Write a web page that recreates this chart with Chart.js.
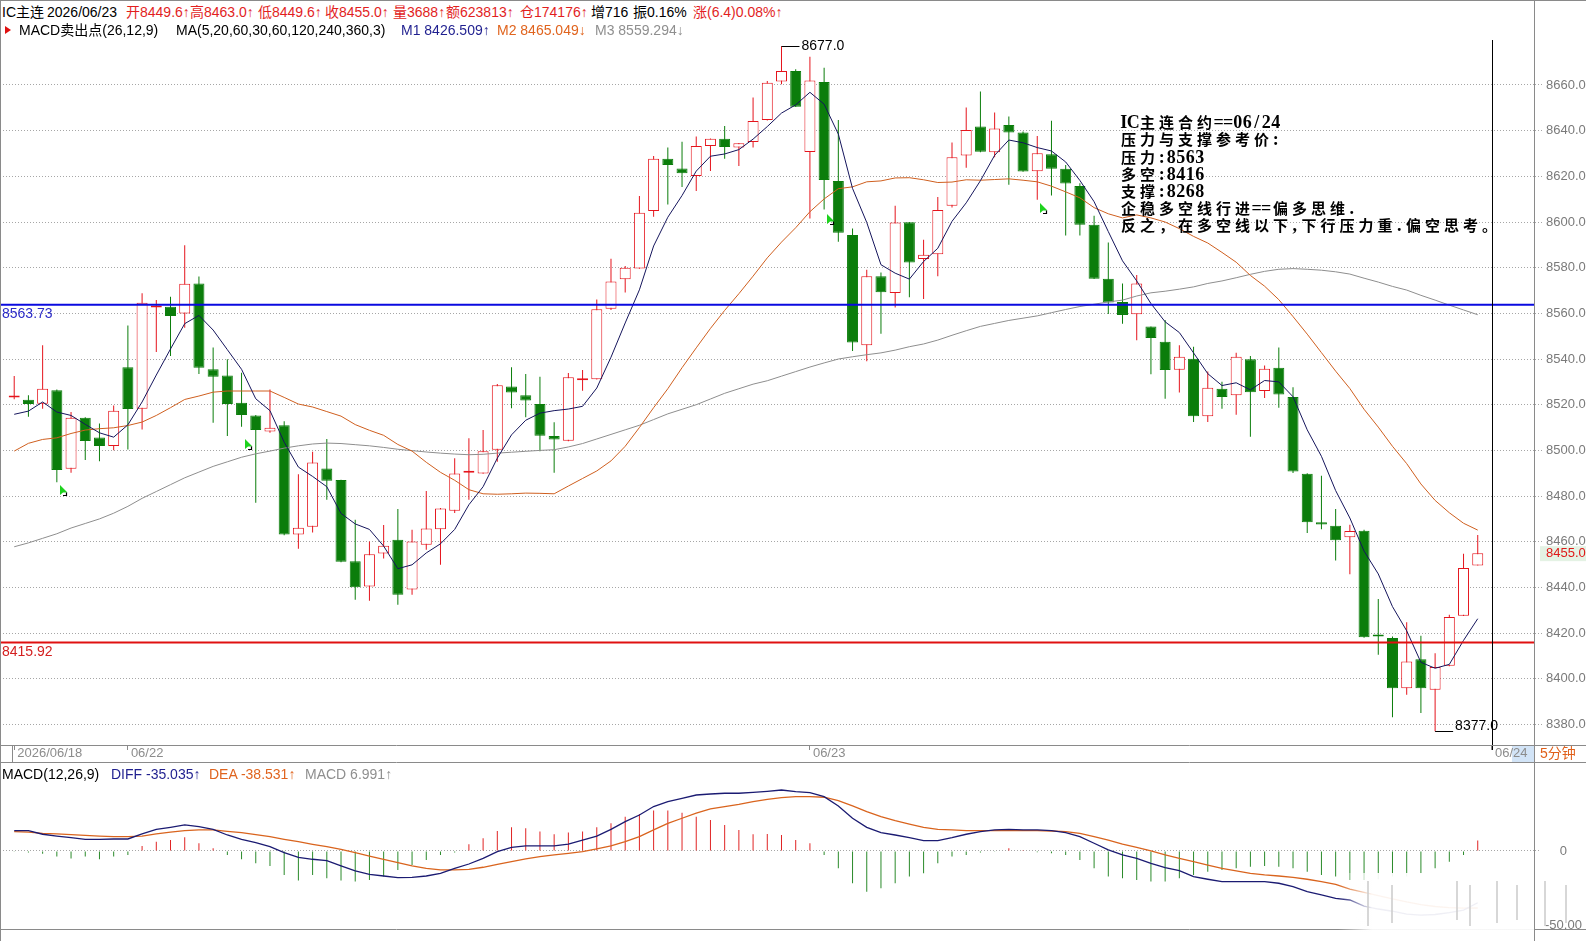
<!DOCTYPE html>
<html>
<head>
<meta charset="utf-8">
<title>IC主连 5分钟</title>
<script src="https://cdn.jsdelivr.net/npm/chart.js@4.4.1/dist/chart.umd.min.js"></script>
<style>
  html, body { margin: 0; padding: 0; background: #fff; }
  #page { position: relative; width: 1586px; height: 941px; overflow: hidden; background: #fff; }
  canvas { position: absolute; left: 0; }
  #main { top: 28px; }
  #macd { top: 745px; }
  .t { position: absolute; white-space: nowrap; font: 14px "Liberation Sans", "Noto Sans CJK SC", sans-serif; line-height: 16px; color: #000; }
  .red { color: #E21E1E; }
  .rule { position: absolute; background: #8a8a8a; }
</style>
</head>
<body>
<div id="page">
  <canvas id="main" width="1586" height="735"></canvas>
  <canvas id="macd" width="1586" height="196"></canvas>

  <div class="rule" style="left:0;top:0;width:1586px;height:1px"></div>
  <div class="rule" style="left:0;top:0;width:1px;height:941px"></div>
  <div class="rule" style="left:1534px;top:0;width:1px;height:941px"></div>

  <span class="t" style="left:2px;top:4px">IC主连</span>
  <span class="t" style="left:47px;top:4px">2026/06/23</span>
  <span class="t red" style="left:126px;top:4px">开8449.6↑</span>
  <span class="t red" style="left:190px;top:4px">高8463.0↑</span>
  <span class="t red" style="left:258px;top:4px">低8449.6↑</span>
  <span class="t red" style="left:325px;top:4px">收8455.0↑</span>
  <span class="t red" style="left:393px;top:4px">量3688↑</span>
  <span class="t red" style="left:446px;top:4px">额623813↑</span>
  <span class="t red" style="left:520px;top:4px">仓174176↑</span>
  <span class="t" style="left:591px;top:4px">增716</span>
  <span class="t" style="left:633px;top:4px">振0.16%</span>
  <span class="t red" style="left:693px;top:4px">涨(6.4)0.08%↑</span>

  <div style="position:absolute;left:5px;top:26px;width:0;height:0;border-left:6px solid #E01010;border-top:4px solid transparent;border-bottom:4px solid transparent"></div>
  <span class="t" style="left:19px;top:22px">MACD卖出点(26,12,9)</span>
  <span class="t" style="left:176px;top:22px">MA(5,20,60,30,60,120,240,360,3)</span>
  <span class="t" style="left:401px;top:22px;color:#1F1F8F">M1 8426.509↑</span>
  <span class="t" style="left:497px;top:22px;color:#E0641E">M2 8465.049↓</span>
  <span class="t" style="left:595px;top:22px;color:#8F8F8F">M3 8559.294↓</span>

  <span class="t" style="left:2px;top:766px">MACD(12,26,9)</span>
  <span class="t" style="left:111px;top:766px;color:#1F1F8F">DIFF -35.035↑</span>
  <span class="t" style="left:209px;top:766px;color:#E0641E">DEA -38.531↑</span>
  <span class="t" style="left:305px;top:766px;color:#8F8F8F">MACD 6.991↑</span>
</div>

<script>
// 5-minute bars: 8 of 06/18, 48 of 06/22, 48 of 06/23
const open = [8523.2,8522.2,8520.4,8526.3,8492.0,8514.3,8505.7,8501.9,8536.4,8518.2,
  8562.6,8562.9,8559.9,8573.1,8535.5,8532.8,8520.9,8515.3,8508.3,8511.0,
  8463.2,8466.6,8492.1,8487.0,8451.5,8440.4,8454.9,8460.9,8439.1,8458.7,
  8465.5,8473.6,8490.2,8489.9,8500.3,8528.0,8524.1,8520.3,8506.3,8504.2,
  8530.7,8531.1,8562.0,8574.9,8579.6,8604.8,8627.7,8623.4,8620.1,8633.3,
  8636.5,8632.6,8635.0,8644.7,8661.5,8666.1,8630.7,8661.3,8618.0,8594.3,
  8546.0,8576.2,8568.9,8599.9,8583.8,8585.9,8607.1,8629.1,8641.8,8630.6,
  8642.5,8639.2,8622.2,8629.7,8623.3,8615.8,8598.8,8575.2,8565.0,8559.6,
  8554.2,8547.6,8535.3,8540.1,8515.0,8527.0,8524.1,8539.9,8526.0,8536.2,
  8523.4,8489.8,8468.5,8467.0,8462.0,8464.8,8419.3,8417.8,8395.9,8408.6,
  8395.2,8405.7,8427.6,8449.6];
const high = [8532.6,8524.1,8546.0,8526.7,8516.8,8514.5,8511.8,8519.7,8554.7,8568.8,
  8565.8,8567.3,8589.8,8576.1,8545.0,8539.9,8534.0,8515.5,8526.7,8512.8,
  8489.5,8499.4,8505.0,8487.2,8469.6,8460.1,8467.3,8474.3,8465.3,8482.2,
  8474.8,8496.6,8505.3,8508.9,8529.1,8536.4,8533.4,8532.3,8512.3,8533.9,
  8535.2,8566.1,8583.9,8580.7,8611.4,8628.9,8632.6,8635.2,8637.4,8636.6,
  8642.0,8634.6,8654.5,8661.8,8677.0,8666.9,8672.4,8667.6,8644.7,8597.2,
  8579.1,8577.9,8607.1,8600.0,8592.2,8610.9,8634.8,8650.1,8657.1,8648.0,
  8646.2,8639.6,8637.7,8644.3,8625.0,8617.0,8602.7,8591.0,8573.1,8576.8,
  8554.3,8557.1,8546.0,8545.4,8534.5,8530.1,8542.8,8541.3,8537.2,8545.0,
  8527.7,8490.0,8488.9,8474.3,8467.4,8465.3,8434.9,8418.5,8424.7,8418.8,
  8411.2,8428.0,8454.7,8463.0];
const low = [8522.4,8514.7,8518.2,8486.1,8490.2,8495.8,8495.3,8500.1,8500.4,8509.2,
  8543.1,8541.3,8553.7,8533.4,8512.1,8506.3,8510.4,8477.1,8507.7,8462.8,
  8456.9,8464.1,8478.4,8451.0,8434.6,8434.2,8452.7,8432.4,8436.8,8456.5,
  8449.9,8472.6,8478.4,8489.8,8495.0,8518.5,8514.5,8499.6,8490.2,8504.0,
  8526.1,8531.0,8561.5,8569.1,8579.5,8602.3,8607.7,8615.3,8613.6,8622.3,
  8627.7,8624.5,8632.6,8644.5,8660.3,8650.4,8601.5,8605.5,8591.4,8543.5,
  8539.0,8551.1,8562.6,8567.1,8566.3,8576.2,8606.4,8623.8,8630.6,8628.4,
  8616.3,8622.0,8609.7,8611.6,8594.1,8594.1,8575.0,8559.7,8555.5,8548.2,
  8533.3,8522.6,8525.3,8512.4,8512.4,8518.2,8515.6,8506.0,8522.9,8518.7,
  8490.1,8463.8,8465.5,8451.8,8445.8,8418.0,8410.5,8383.2,8393.0,8385.0,
  8377.0,8405.5,8427.5,8449.6];
const close = [8523.6,8520.3,8527.0,8491.4,8514.3,8504.1,8501.9,8517.4,8518.1,8564.7,
  8563.0,8558.8,8573.0,8536.2,8532.3,8520.3,8515.5,8508.9,8509.9,8463.2,
  8466.1,8494.7,8486.7,8451.2,8440.1,8454.5,8458.2,8436.8,8460.1,8465.8,
  8474.6,8489.9,8490.6,8499.6,8528.5,8525.3,8521.8,8506.4,8504.8,8532.0,
  8531.5,8561.8,8573.9,8580.0,8604.1,8627.7,8625.0,8621.3,8633.3,8636.5,
  8632.8,8634.5,8644.2,8661.0,8666.1,8650.5,8662.0,8618.4,8595.3,8547.2,
  8576.2,8569.3,8599.8,8582.3,8585.7,8605.3,8628.4,8640.3,8630.8,8641.0,
  8639.2,8622.1,8630.1,8623.3,8616.9,8598.8,8575.2,8564.8,8559.3,8573.1,
  8549.2,8535.2,8541.0,8515.0,8527.4,8523.4,8541.0,8525.5,8535.8,8524.5,
  8490.8,8468.5,8467.6,8460.6,8464.7,8418.2,8418.5,8395.9,8407.6,8395.9,
  8405.1,8427.0,8448.5,8455.0];

const ma5 = [8515.8,8517.2,8521.2,8516.8,8515.3,8511.4,8507.7,8505.8,8511.2,8521.2,
  8533.0,8544.4,8555.5,8559.1,8552.7,8544.1,8535.5,8522.6,8517.4,8503.6,
  8492.7,8488.6,8484.1,8472.4,8467.8,8465.4,8458.1,8448.2,8449.9,8455.1,
  8459.1,8465.4,8476.2,8484.1,8496.6,8506.8,8513.2,8516.3,8517.4,8518.1,
  8519.3,8527.3,8540.8,8555.8,8570.3,8589.5,8602.1,8611.6,8622.3,8628.8,
  8629.8,8631.7,8636.3,8641.8,8647.7,8651.3,8656.8,8651.6,8638.5,8614.7,
  8599.8,8581.3,8577.6,8575.0,8582.7,8588.5,8600.3,8608.4,8618.1,8629.2,
  8635.9,8634.7,8632.6,8631.1,8626.3,8618.2,8608.9,8595.8,8583.0,8574.2,
  8564.3,8556.3,8551.6,8542.7,8533.6,8528.4,8529.6,8526.5,8530.6,8530.0,
  8523.5,8509.0,8497.4,8482.4,8470.4,8455.9,8445.9,8431.6,8421.0,8407.2,
  8404.6,8406.3,8416.8,8426.3];
const ma20 = [8499.7,8503.1,8504.8,8505.5,8507.4,8508.9,8509.5,8509.9,8510.9,8512.4,
  8515.3,8518.7,8522.3,8523.8,8525.5,8526.0,8526.0,8526.0,8526.0,8523.2,
  8520.3,8519.0,8517.0,8515.0,8511.3,8508.8,8506.6,8502.6,8499.7,8494.8,
  8490.4,8486.9,8482.8,8481.0,8480.8,8481.0,8481.3,8481.2,8481.0,8484.4,
  8487.7,8491.0,8495.4,8501.8,8510.0,8518.7,8527.0,8536.2,8544.9,8553.4,
  8561.3,8568.6,8576.3,8584.3,8591.2,8597.5,8604.5,8610.1,8614.6,8615.4,
  8617.6,8618.0,8619.3,8619.4,8618.5,8617.3,8617.5,8618.5,8618.3,8618.6,
  8618.9,8618.3,8617.6,8615.7,8613.2,8610.6,8606.3,8603.6,8601.8,8603.1,
  8601.8,8600.0,8597.1,8593.7,8590.8,8586.7,8582.4,8576.6,8571.9,8566.0,
  8558.6,8550.9,8542.8,8534.7,8527.1,8518.0,8510.2,8501.8,8494.2,8485.3,
  8478.1,8472.7,8468.1,8465.1];
const ma60 = [8457.8,8459.5,8461.5,8463.5,8466.0,8468.0,8470.0,8472.5,8475.5,8479.0,
  8482.0,8485.0,8488.0,8490.5,8493.0,8495.0,8497.0,8498.5,8499.7,8501.0,
  8502.0,8502.8,8503.2,8503.0,8502.5,8502.0,8501.3,8500.5,8499.9,8499.3,
  8498.8,8498.4,8498.1,8498.3,8498.8,8499.2,8499.6,8500.0,8500.3,8501.5,
  8503.0,8505.0,8507.0,8509.0,8511.0,8513.5,8516.0,8518.0,8520.0,8522.5,
  8525.0,8527.0,8529.0,8530.5,8532.5,8534.5,8536.5,8538.3,8540.0,8541.0,
  8541.9,8542.7,8543.9,8545.4,8546.6,8548.3,8550.4,8552.4,8554.3,8555.6,
  8556.9,8557.9,8558.9,8560.3,8561.7,8563.0,8564.0,8565.0,8565.8,8567.6,
  8569.0,8569.7,8570.6,8571.6,8573.1,8574.2,8575.6,8577.1,8578.4,8579.3,
  8579.6,8579.3,8578.9,8578.2,8577.2,8575.4,8573.7,8571.8,8570.2,8567.9,
  8565.8,8563.6,8561.5,8559.4];

const diff = [13.7,13.7,11.3,10.1,9.0,7.9,7.9,8.1,8.1,11.5,
  14.6,16.0,17.6,16.4,14.6,10.8,7.9,5.6,2.9,-1.1,
  -4.3,-5.6,-6.5,-10.1,-13.5,-15.8,-16.9,-18.0,-17.8,-16.9,
  -15.1,-11.7,-8.8,-5.0,-0.5,2.5,3.4,3.4,3.4,4.7,
  7.4,10.1,14.6,19.8,24.3,30.0,33.3,35.6,37.8,38.5,
  39.0,39.0,39.6,40.3,41.2,40.1,39.4,36.7,30.4,22.1,
  16.0,12.4,10.8,9.0,7.0,7.0,9.0,11.3,13.1,14.2,
  14.6,14.2,14.2,13.7,12.4,9.7,5.2,0.7,-2.7,-5.0,
  -8.3,-11.3,-13.3,-17.3,-19.1,-20.7,-20.7,-20.7,-20.7,-21.8,
  -24.1,-27.5,-29.7,-32.0,-33.1,-37.3,-39.2,-40.7,-42.6,-43.3,
  -42.9,-41.6,-39.9,-35.0];
const dea = [13.1,12.8,11.9,11.5,11.0,10.6,10.1,9.7,9.7,10.1,
  11.5,12.8,13.7,14.2,14.2,13.3,12.4,11.0,9.7,7.9,
  6.3,4.5,2.9,1.1,-1.1,-3.4,-5.6,-7.9,-10.1,-11.7,
  -12.8,-12.8,-12.4,-11.0,-9.0,-7.2,-5.4,-3.8,-2.7,-1.6,
  -0.5,1.4,3.4,6.3,9.7,14.2,18.7,22.1,25.5,28.4,
  30.0,31.5,33.3,34.9,36.0,36.7,36.7,36.3,34.0,30.4,
  26.6,23.2,20.5,18.2,16.0,14.6,14.2,13.7,13.7,13.7,
  13.7,13.7,13.7,13.5,13.1,11.9,9.7,7.4,4.7,2.5,
  0.0,-2.7,-5.0,-7.2,-9.5,-11.7,-13.5,-15.1,-16.2,-16.9,
  -17.8,-19.1,-20.7,-22.5,-25.7,-28.0,-30.2,-32.3,-34.4,-36.2,
  -37.5,-38.3,-38.6,-38.5];
const macdHist = [-0.6,-1.0,-1.8,-3.8,-5.0,-3.8,-5.6,-3.8,-2.7,3.4,
  6.3,7.4,9.2,5.2,1.8,-2.7,-5.6,-8.3,-10.1,-16.2,
  -20.0,-16.2,-18.5,-20.0,-20.7,-19.6,-17.3,-12.8,-9.5,-6.1,
  -2.7,-1.1,4.5,8.6,13.5,16.0,15.3,13.1,11.3,12.4,
  13.1,16.0,18.7,23.2,25.0,27.3,27.3,25.9,23.2,21.0,
  17.6,14.2,11.3,11.5,10.8,7.4,5.2,-2.7,-11.7,-21.8,
  -27.5,-25.2,-21.8,-17.3,-15.1,-8.3,-3.8,-2.7,-1.1,-0.5,
  1.8,0.7,-0.9,-1.6,-2.7,-6.1,-11.7,-17.3,-18.5,-19.6,
  -20.7,-20.7,-18.5,-16.2,-14.0,-12.8,-11.7,-10.6,-10.1,-10.6,
  -11.7,-14.0,-16.2,-17.3,-19.6,-19.6,-19.1,-17.3,-17.3,-15.1,
  -11.7,-7.2,-2.7,7.0];

const priceTicks = [8380,8400,8420,8440,8460,8480,8500,8520,8540,8560,8580,8600,8620,8640,8660];
const macdTicks = [-50, 0];
const dayIdx = [0, 8, 56, 104];
const dayLabels = ['2026/06/18', '06/22', '06/23', '06/24'];
const pressure = 8563.73, pivot = 8415.92;
const sellIdx = [3, 16, 57, 72];
const sellPrice = [8484.7, 8504.8, 8603.6, 8608.3];
const noteLines = [
  'IC主连合约==06/24',
  '压力与支撑参考价:',
  '压力:8563',
  '多空:8416',
  '支撑:8268',
  '企稳多空线行进==偏多思维.',
  '反之，在多空线以下,下行压力重.偏空思考。'
];

const xMin = -1, xMax = 107.03;
const yMin = 8371.0, yMax = 8679.7;
const macdMin = -52.7, macdMax = 57.4;

const UP = '#E5141C', DN = '#0B7D0B';
const bars = close.map((_, i) => i);
const isUp = i => close[i] >= open[i];
const pts = arr => bars.map(i => ({x: i, y: arr[i]}));
const hiIdx = high.indexOf(Math.max(...high));
const loIdx = low.indexOf(Math.min(...low));
const MAIN_TOP = 28;

Chart.defaults.font.family = '"Liberation Sans", "Noto Sans CJK SC", sans-serif';
Chart.defaults.animation = false;

const mainDecor = {
  id: 'mainDecor',
  beforeDraw(chart) {
    const {ctx, chartArea: a, scales: {x}} = chart;
    const x0 = x.getPixelForValue(dayIdx[3]);
    ctx.save();
    ctx.fillStyle = '#D2E4F7';
    ctx.fillRect(x0 + 20, a.bottom, a.right - x0 - 20, chart.height - a.bottom);
    ctx.restore();
  },
  afterDatasetsDraw(chart) {
    const {ctx, chartArea: a, scales: {x, y}} = chart;
    ctx.save();
    // pressure / pivot lines
    [[pressure, '#0A0AE0', '#2B2BC8'], [pivot, '#E01010', '#D42020']].forEach(([v, lc, tc]) => {
      const py = y.getPixelForValue(v);
      ctx.strokeStyle = lc; ctx.lineWidth = 2;
      ctx.beginPath(); ctx.moveTo(a.left, py); ctx.lineTo(a.right, py); ctx.stroke();
      ctx.fillStyle = tc; ctx.font = '14px "Liberation Sans"';
      ctx.textBaseline = 'middle'; ctx.textAlign = 'left';
      ctx.fillText(v.toFixed(2), 2, py + 9.5);
    });
    // 06/24 separator
    const xs = Math.round(x.getPixelForValue(dayIdx[3])) + 0.5;
    ctx.strokeStyle = '#000'; ctx.lineWidth = 1;
    ctx.beginPath(); ctx.moveTo(xs, a.top); ctx.lineTo(xs, a.bottom + 5); ctx.stroke();
    // high / low marks
    ctx.font = '14px "Liberation Sans"'; ctx.fillStyle = '#000';
    const hx = x.getPixelForValue(hiIdx), hy = Math.round(y.getPixelForValue(high[hiIdx])) + 0.5;
    ctx.beginPath(); ctx.moveTo(hx, hy); ctx.lineTo(hx + 18, hy); ctx.stroke();
    ctx.textBaseline = 'middle'; ctx.fillText(high[hiIdx].toFixed(1), hx + 20, hy);
    const lx = x.getPixelForValue(loIdx), ly = Math.round(y.getPixelForValue(low[loIdx])) + 0.5;
    ctx.beginPath(); ctx.moveTo(lx, ly); ctx.lineTo(lx + 18, ly); ctx.stroke();
    ctx.textBaseline = 'bottom'; ctx.fillText(low[loIdx].toFixed(1), lx + 20, ly + 2);
    // MACD sell markers
    sellIdx.forEach((idx, k) => {
      const px = Math.round(x.getPixelForValue(idx)) + 3, py = Math.round(y.getPixelForValue(sellPrice[k]));
      ctx.fillStyle = '#1ED21E';
      ctx.beginPath(); ctx.moveTo(px, py); ctx.lineTo(px, py + 10); ctx.lineTo(px + 3, py + 7.5);
      ctx.lineTo(px + 7.5, py + 7.5); ctx.closePath(); ctx.fill();
      ctx.strokeStyle = '#000'; ctx.lineWidth = 1.2;
      ctx.beginPath(); ctx.moveTo(px + 3, py + 10.5); ctx.lineTo(px + 6.5, py + 10.5); ctx.lineTo(px + 6.5, py + 7.5); ctx.stroke();
    });
    ctx.restore();
  },
  afterDraw(chart) {
    const {ctx, chartArea: a, scales: {x, y}} = chart;
    ctx.save();
    // date strip borders
    ctx.strokeStyle = '#8A8A8A'; ctx.lineWidth = 1;
    ctx.beginPath();
    ctx.moveTo(0, a.bottom + 0.5); ctx.lineTo(chart.width, a.bottom + 0.5);
    ctx.moveTo(0, chart.height - 0.5); ctx.lineTo(chart.width, chart.height - 0.5);
    const x0 = Math.round(x.getPixelForValue(dayIdx[0])) - 1.5;
    ctx.moveTo(x0, a.bottom); ctx.lineTo(x0, chart.height);
    ctx.stroke();
    ctx.fillStyle = '#E0601A'; ctx.font = '14px "Liberation Sans", "Noto Sans CJK SC"';
    ctx.textBaseline = 'middle'; ctx.textAlign = 'left';
    ctx.fillText('5分钟', a.right + 5, (a.bottom + chart.height) / 2);
    // last price tag
    const last = close[close.length - 1];
    const py = y.getPixelForValue(last);
    ctx.fillStyle = '#E4F2E4';
    ctx.fillRect(a.right + 5, py - 7, chart.width - a.right - 5, 15);
    ctx.fillStyle = '#E01818'; ctx.font = '13px "Liberation Sans"';
    ctx.fillText(last.toFixed(1), a.right + 11, py + 0.5);
    // note block
    ctx.fillStyle = '#000';
    ctx.textAlign = 'center';
    noteLines.forEach((line, k) => {
      let cx = 1119;
      const cy = 122.5 - MAIN_TOP + k * 17.2;
      for (const ch of line) {
        if (/[\x00-\x7f]/.test(ch)) {
          ctx.font = 'bold 18px "Liberation Serif"';
          ctx.fillText(ch, cx + 4.75, cy + 1);
          cx += 9.5;
        } else {
          ctx.font = 'bold 15px "Noto Sans CJK SC"';
          ctx.fillText(ch, cx + 9.5, cy);
          cx += 19;
        }
      }
    });
    ctx.restore();
  }
};

new Chart(document.getElementById('main'), {
  type: 'bar',
  data: {
    datasets: [
      { label: 'wick', data: bars.map(i => ({x: i, y: [low[i], high[i]]})),
        backgroundColor: bars.map(i => isUp(i) ? UP : DN),
        barThickness: 1, grouped: false, inflateAmount: 0, order: 6 },
      { label: 'body', data: bars.map(i => ({x: i, y: [open[i], close[i]]})),
        backgroundColor: bars.map(i => isUp(i) ? '#FFFFFF' : DN),
        borderColor: bars.map(i => isUp(i) ? UP : DN),
        borderWidth: 1, borderSkipped: false, barThickness: 11, minBarLength: 2,
        grouped: false, inflateAmount: 0, order: 5 },
      { type: 'line', label: 'M3', data: pts(ma60), borderColor: '#8E8E8E', borderWidth: 1, pointRadius: 0, order: 3 },
      { type: 'line', label: 'M2', data: pts(ma20), borderColor: '#CF5F1F', borderWidth: 1, pointRadius: 0, order: 2 },
      { type: 'line', label: 'M1', data: pts(ma5), borderColor: '#15155C', borderWidth: 1, pointRadius: 0, order: 1 }
    ]
  },
  options: {
    responsive: false,
    events: [],
    layout: { padding: { top: 12, left: 0, right: 0, bottom: 0 } },
    plugins: { legend: { display: false }, tooltip: { enabled: false } },
    scales: {
      x: {
        type: 'linear', min: xMin, max: xMax, offset: false,
        afterBuildTicks: s => { s.ticks = dayIdx.map(v => ({value: v})); },
        afterFit: s => { s.height = 18; },
        ticks: { callback: (v, i) => dayLabels[i], align: 'start', labelOffset: 3, padding: -4,
                 color: '#8C8C8C', font: { size: 13 }, maxRotation: 0, autoSkip: false },
        grid: { drawOnChartArea: false, drawTicks: true, tickLength: 5, color: '#8A8A8A', offset: false },
        border: { display: false }
      },
      y: {
        position: 'right', min: yMin, max: yMax,
        afterBuildTicks: s => { s.ticks = priceTicks.map(v => ({value: v})); },
        afterFit: s => { s.width = 51; },
        ticks: { callback: v => v.toFixed(1), color: '#7A7A7A', font: { size: 13 }, padding: 3 },
        grid: { color: '#A6A6A6', lineWidth: 1, tickLength: 8, tickColor: '#A6A6A6', tickBorderDash: [1, 2] },
        border: { display: false, dash: [1, 2] }
      }
    }
  },
  plugins: [mainDecor]
});

const macdDecor = {
  id: 'macdDecor',
  afterDatasetsDraw(chart) {
    const {ctx, chartArea: a} = chart;
    ctx.save();
    ctx.strokeStyle = '#8A8A8A'; ctx.lineWidth = 1;
    ctx.beginPath(); ctx.moveTo(0, a.bottom + 0.5); ctx.lineTo(chart.width, a.bottom + 0.5); ctx.stroke();
    // pale screenshot overlay at the lower right corner
    const top = a.bottom - 56, bot = a.bottom + 3;
    const g = ctx.createLinearGradient(1338, 0, 1372, 0);
    g.addColorStop(0, 'rgba(255,255,255,0)');
    g.addColorStop(1, 'rgba(255,255,255,0.93)');
    ctx.fillStyle = g;
    ctx.fillRect(1338, top, a.right - 1338, bot - top);
    ctx.strokeStyle = 'rgba(205,205,205,0.8)'; ctx.lineWidth = 2;
    [1368, 1392, 1457, 1470, 1497, 1517, 1545, 1566].forEach((sx, k) => {
      ctx.beginPath();
      ctx.moveTo(sx, top + 8 + (k % 2) * 4); ctx.lineTo(sx, bot - 6 - (k % 3) * 3);
      ctx.stroke();
    });
    ctx.restore();
  }
};

new Chart(document.getElementById('macd'), {
  type: 'bar',
  data: {
    datasets: [
      { label: 'MACD', data: pts(macdHist),
        backgroundColor: bars.map(i => macdHist[i] >= 0 ? '#E02424' : '#2A8A2A'),
        barThickness: 1, grouped: false, inflateAmount: 0, order: 3 },
      { type: 'line', label: 'DEA', data: pts(dea), borderColor: '#D9641E', borderWidth: 1.3, pointRadius: 0, order: 2 },
      { type: 'line', label: 'DIFF', data: pts(diff), borderColor: '#1B1B72', borderWidth: 1.3, pointRadius: 0, order: 1 }
    ]
  },
  options: {
    responsive: false,
    events: [],
    layout: { padding: { top: 21, left: 0, right: 0, bottom: 12 } },
    plugins: { legend: { display: false }, tooltip: { enabled: false } },
    scales: {
      x: { type: 'linear', min: xMin, max: xMax, offset: false, display: false },
      y: {
        position: 'right', min: macdMin, max: macdMax,
        afterBuildTicks: s => { s.ticks = macdTicks.map(v => ({value: v})); },
        afterFit: s => { s.width = 51; },
        ticks: { callback: v => v === 0 ? '0' : v.toFixed(2), crossAlign: 'center', padding: 4,
                 color: '#7A7A7A', font: { size: 13 } },
        grid: { color: c => c.tick && c.tick.value === 0 ? '#A6A6A6' : 'rgba(0,0,0,0)',
                tickColor: c => c.tick && c.tick.value === 0 ? '#A6A6A6' : 'rgba(0,0,0,0)',
                tickLength: 6, tickBorderDash: [1, 2] },
        border: { display: false, dash: [1, 2] }
      }
    }
  },
  plugins: [macdDecor]
});
</script>
</body>
</html>
